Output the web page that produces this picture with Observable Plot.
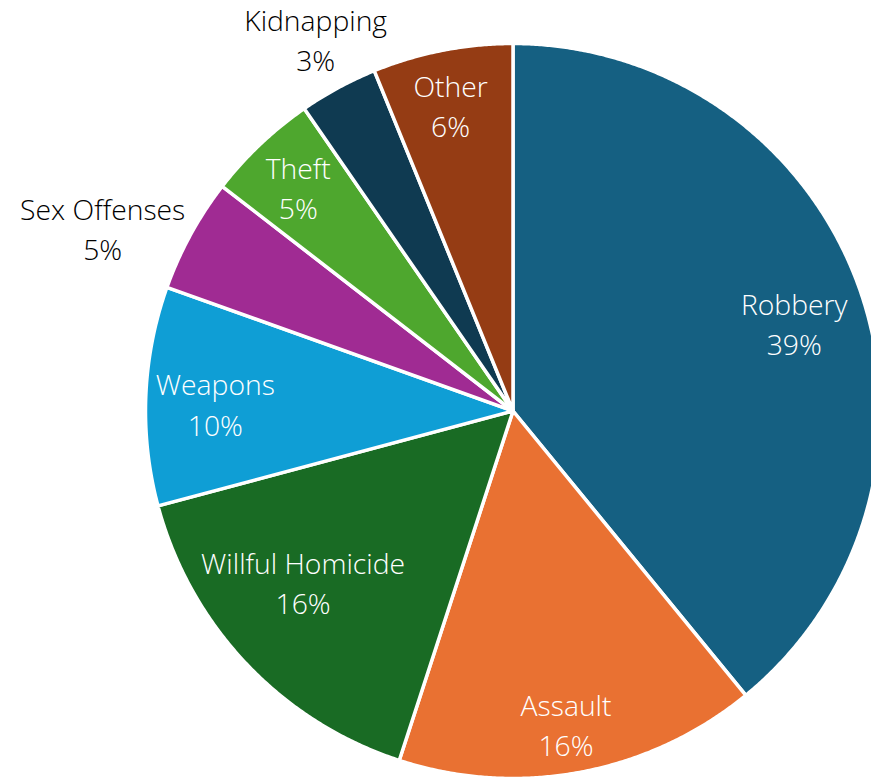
<!DOCTYPE html>
<html><head><meta charset="utf-8">
<script src="https://cdn.jsdelivr.net/npm/d3@7"></script>
<script src="https://cdn.jsdelivr.net/npm/@observablehq/plot@0.6"></script>
<style>html,body{margin:0;padding:0;background:#fff;overflow:hidden}</style>
</head><body><div id="chart"></div>
<script>
// Data (clockwise from 12 o'clock)
const categories = ["Robbery", "Assault", "Willful Homicide", "Weapons", "Sex Offenses", "Theft", "Kidnapping", "Other"];
const shares = [39.0, 15.9, 15.8, 9.6, 5.0, 4.9, 3.45, 6.15];
const sliceColors = ["#156082", "#E97132", "#196B24", "#0F9ED5", "#A02B93", "#4EA72E", "#0F3A51", "#953C14"];

// Layout (label placement relative to each slice's mid-angle)
const labelLayout = {
  "Robbery":          {r: 0.80, da: 2.7, inside: true},
  "Assault":          {r: 0.87, da: 1.1, inside: true},
  "Willful Homicide": {r: 0.74, da: 4.0, inside: true},
  "Weapons":          {r: 0.81, da: -1.3, inside: true},
  "Sex Offenses":     {r: 1.22, da: -4.9, inside: false},
  "Theft":            {r: 0.84, da: -0.6, inside: true},
  "Kidnapping":       {r: 1.14, da: 0.3, inside: false},
  "Other":            {r: 0.845, da: -0.5, inside: true}
};

const W = 871, H = 778, R = 367.5, cx = 512.5, cy = 410.5;
const total = d3.sum(shares);
const arcs = d3.pie().sort(null).value(d => d)(shares);

const slicePts = [];
const labels = [];
arcs.forEach((a, i) => {
  const cat = categories[i];
  slicePts.push({cat, x: 0, y: 0});
  const n = Math.max(4, Math.ceil((a.endAngle - a.startAngle) * 180));
  for (let k = 0; k <= n; k++) {
    const t = a.startAngle + (a.endAngle - a.startAngle) * k / n;
    slicePts.push({cat, x: Math.sin(t), y: Math.cos(t)});
  }
  slicePts.push({cat, x: 0, y: 0});
  const L = labelLayout[cat];
  const mid = (a.startAngle + a.endAngle) / 2 + L.da * Math.PI / 180;
  labels.push({
    cat,
    text: cat + "\n" + Math.round(shares[i] / total * 100) + "%",
    x: L.r * Math.sin(mid),
    y: L.r * Math.cos(mid),
    color: L.inside ? "#ffffff" : "#000000"
  });
});

const chart = Plot.plot({
  width: W,
  height: H,
  margin: 0,
  style: {background: "#ffffff", overflow: "hidden"},
  x: {domain: [-cx / R, (W - cx) / R], range: [0, W], axis: null},
  y: {domain: [-(H - cy) / R, cy / R], range: [H, 0], axis: null},
  color: {domain: categories, range: sliceColors},
  marks: [
    Plot.line(slicePts, {x: "x", y: "y", z: "cat", fill: "cat", stroke: "#ffffff", strokeWidth: 3.5, strokeLinejoin: "round", curve: "linear"}),
    Plot.text(labels, {x: "x", y: "y", dy: -3, text: "text", fill: "color", fontSize: 28.3, fontWeight: 300, fontFamily: "'Open Sans', 'Noto Sans', sans-serif", lineHeight: 1.42, textAnchor: "middle", lineAnchor: "middle"})
  ]
});
document.getElementById("chart").appendChild(chart);
</script>
</body></html>
